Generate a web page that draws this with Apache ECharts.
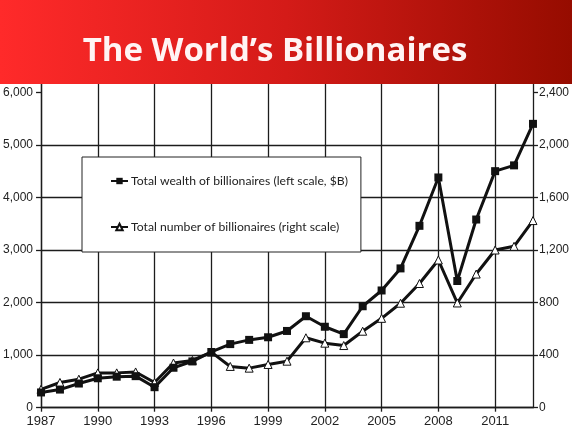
<!DOCTYPE html>
<html>
<head>
<meta charset="utf-8">
<script src="https://cdn.jsdelivr.net/npm/echarts@6/dist/echarts.min.js"></script>
<style>
html,body{margin:0;padding:0;background:#fff;}
#c{width:572px;height:432px;}
</style>
</head>
<body>
<div id="c"></div>
<script>
var titleText = "The World\u2019s Billionaires";
var years = ["1987","1988","1989","1990","1991","1992","1993","1994","1995","1996","1997","1998","1999","2000","2001","2002","2003","2004","2005","2006","2007","2008","2009","2010","2011","2012","2013"];
var wealthName = "Total wealth of billionaires (left scale, $B)";
var countName = "Total number of billionaires (right scale)";
var wealth = [290, 345, 460, 560, 590, 600, 390, 760, 880, 1060, 1210, 1290, 1340, 1460, 1740, 1540, 1400, 1930, 2230, 2650, 3460, 4380, 2410, 3580, 4500, 4610, 5400];
var count = [140, 192, 217, 265, 265, 272, 192, 340, 360, 423, 314, 301, 329, 354, 532, 491, 473, 582, 680, 795, 945, 1124, 797, 1017, 1200, 1228, 1424];

var chart = echarts.init(document.getElementById('c'), null, {renderer: 'canvas'});
var gridCol = '#1c1c1c';
var labelFont = "'Liberation Sans Narrow', 'Arial Narrow', 'Liberation Sans', Arial, sans-serif";
var option = {
  animation: false,
  backgroundColor: '#ffffff',
  graphic: [
    {
      type: 'rect', z: 100, zlevel: 0,
      shape: {x: 0, y: 0, width: 572, height: 84},
      style: {
        fill: {
          type: 'linear', x: 0, y: 0, x2: 1, y2: 0,
          colorStops: [
            {offset: 0, color: '#ff2a2a'},
            {offset: 0.5, color: '#d41b18'},
            {offset: 1, color: '#960c00'}
          ]
        }
      }
    },
    {
      type: 'text', z: 101,
      x: 275, y: 52,
      style: {
        text: titleText,
        fill: '#fff4f4',
        font: "bold 33px 'Open Sans', 'Noto Sans', sans-serif",
        textAlign: 'center',
        textVerticalAlign: 'middle'
      }
    }
  ],
  legend: {
    orient: 'vertical',
    left: 82, top: 157,
    padding: [18, 13, 19, 28],
    itemGap: 34,
    itemWidth: 17, itemHeight: 8,
    backgroundColor: '#ffffff',
    borderColor: '#222',
    borderWidth: 1,
    textStyle: {fontFamily: "Lato, 'Open Sans', sans-serif", fontSize: 12.2, color: '#222', padding: [0, 0, 0, -2]},
    data: [wealthName, countName]
  },
  grid: {left: 38, right: 34, top: 83, bottom: 24.3, containLabel: false},
  xAxis: {
    type: 'category',
    data: years,
    boundaryGap: false,
    axisLine: {show: true, lineStyle: {color: gridCol, width: 1.3}},
    axisTick: {show: true, interval: 2, length: 4, lineStyle: {color: gridCol, width: 1.3}},
    axisLabel: {interval: 2, margin: 7, color: '#222', fontSize: 13, fontFamily: labelFont},
    splitLine: {show: true, interval: 2, lineStyle: {color: gridCol, width: 1.3}}
  },
  yAxis: [
    {
      type: 'value', min: 0, max: 6177, interval: 1000,
      axisLine: {show: true, lineStyle: {color: gridCol, width: 1.3}},
      axisTick: {show: true, length: 5, lineStyle: {color: gridCol, width: 1.3}},
      axisLabel: {showMaxLabel: false, margin: 8, color: '#222', fontSize: 12, fontFamily: labelFont},
      splitLine: {show: true, showMaxLine: false, lineStyle: {color: [gridCol, gridCol, gridCol, gridCol, gridCol, gridCol, 'rgba(0,0,0,0)', 'rgba(0,0,0,0)'], width: 1.3}}
    },
    {
      type: 'value', min: 0, max: 2470.8, interval: 400,
      position: 'right',
      axisLine: {show: true, lineStyle: {color: gridCol, width: 1.3}},
      axisTick: {show: true, length: 5, lineStyle: {color: gridCol, width: 1.3}},
      axisLabel: {showMaxLabel: false, margin: 6, color: '#222', fontSize: 12, fontFamily: labelFont},
      splitLine: {show: false}
    }
  ],
  series: [
    {
      name: countName,
      type: 'line',
      yAxisIndex: 1,
      data: count,
      symbol: 'triangle',
      symbolSize: 8,
      showAllSymbol: true,
      lineStyle: {color: '#111', width: 3},
      itemStyle: {color: '#ffffff', borderColor: '#111', borderWidth: 1},
      z: 3
    },
    {
      name: wealthName,
      type: 'line',
      yAxisIndex: 0,
      data: wealth,
      symbol: 'rect',
      symbolSize: 8,
      showAllSymbol: true,
      lineStyle: {color: '#111', width: 3},
      itemStyle: {color: '#111', borderColor: '#111', borderWidth: 0},
      z: 4
    }
  ]
};
chart.setOption(option);
</script>
</body>
</html>
